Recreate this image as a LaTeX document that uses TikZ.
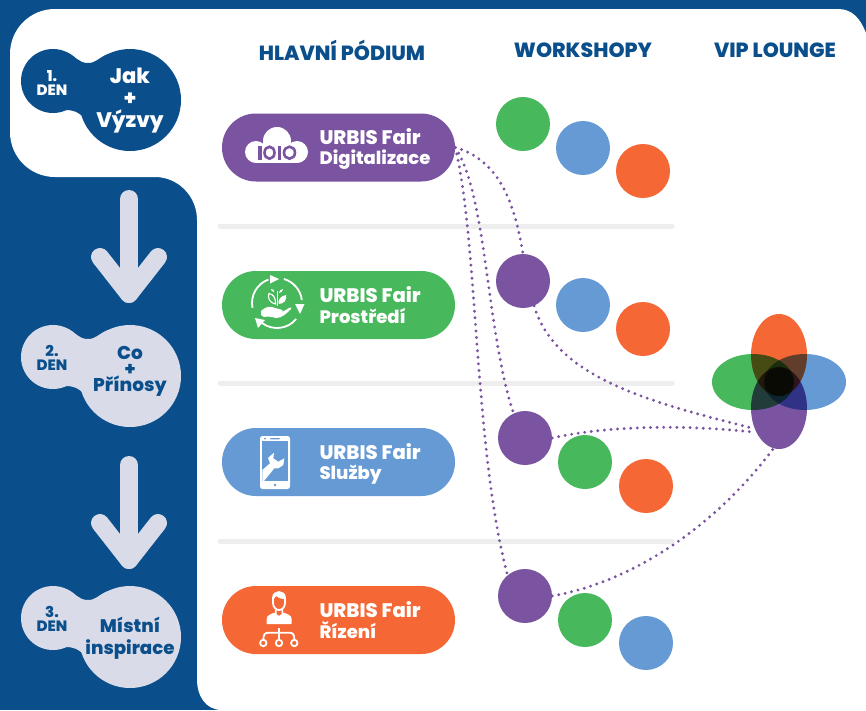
\documentclass[tikz,border=0pt]{standalone}
\usepackage{fontspec}
\setmainfont{Poppins}[BoldFont={Poppins ExtraBold}]
\usetikzlibrary{calc}
\definecolor{navy}{HTML}{0A4F8B}
\definecolor{pale}{HTML}{D9DBE9}
\definecolor{vio}{HTML}{7A54A1}
\definecolor{grn}{HTML}{48B85D}
\definecolor{blu}{HTML}{659AD4}
\definecolor{org}{HTML}{F56835}
\definecolor{sep}{HTML}{EEEEEE}
\definecolor{core}{HTML}{0A0A05}
\newcommand{\firstline}[1]{{\fontsize{19.6}{20.5}\selectfont #1}}
\tikzset{
  x=1pt,y=-1pt,
  pill/.style={rounded corners=33.9pt,minimum width=233pt,minimum height=68pt,inner sep=0pt},
  work/.style={circle,minimum size=54pt,inner sep=0pt},
  hd/.style={text=navy,font=\fontsize{20.5}{20.5}\selectfont\bfseries,anchor=center},
  pilltxt/.style={text=white,font=\fontsize{18}{20.5}\selectfont\bfseries,align=left,anchor=west},
  dayno/.style={font=\fontsize{15}{15.5}\selectfont\bfseries,align=center},
  dots/.style={draw=vio,line width=3.2pt,line cap=round,dash pattern=on 0pt off 6.6pt},
  bigarrow/.style={draw=pale,line width=18pt,line cap=round,line join=round},
  ic/.style={draw=white,line width=1.8pt},
}
\newcommand{\blob}[2]{%
  \begin{scope}[yshift=-#1pt]
  \fill[#2] (53,81) circle[radius=32] (130,100) circle[radius=51];
  \fill[#2] (66,52) .. controls (76,56) and (78,63) .. (88,63) .. controls (96,63) and (98,58) .. (108,54)
     -- (90,125) .. controls (84,118) and (80,111) .. (68,110) -- (55,110) -- cycle;
  \end{scope}}
\begin{document}
\begin{tikzpicture}
\useasboundingbox (0,0) rectangle (866,710);
\fill[navy] (0,0) rectangle (866,710);
\fill[white] (866,33) .. controls (860,18) and (852,9) .. (838,9) -- (55,9) .. controls (30,9) and (10,29) .. (10,54) -- (10,132) .. controls (10,157) and (30,177) .. (55,177)
  -- (155,177) .. controls (178,177) and (197,196) .. (197,220) -- (197,680) .. controls (197,695) and (205,710) .. (222,710) -- (866,710) -- cycle;
% separators
\foreach \yy in {226,383,541} \draw[sep,line width=5pt,line cap=round] (220,\yy) -- (672,\yy);
% blobs
\blob{0}{navy}
\blob{276}{pale}
\blob{537}{pale}
\node[dayno,text=white] (d1) at (52,83) {1.\\[-1pt]DEN};
\node[dayno,text=navy] (d2) at (52,358) {2.\\[-1pt]DEN};
\node[dayno,text=navy] (d3) at (52,619) {3.\\[-1pt]DEN};
\node[text=white,align=center,font=\fontsize{21}{22}\selectfont\bfseries] (t1) at (130,101) {Jak\\+\\Výzvy};
\node[text=navy,align=center,inner sep=0pt,font=\fontsize{18.5}{16}\selectfont\bfseries] (t2) at (130,371.5) {Co\\+\\Přínosy};
\node[text=navy,align=center,font=\fontsize{18.2}{22}\selectfont\bfseries] (t3) at (130,638) {Místní\\inspirace};
% arrows
\foreach \dy in {-266,0} {
  \draw[bigarrow] (129,465+\dy) -- (129,560+\dy);
  \draw[bigarrow] (100,523+\dy) -- (129,560+\dy) -- (158,523+\dy);
}
% headings
\node[hd] (h1) at (342,50) {HLAVNÍ PÓDIUM};
\node[hd] (h2) at (583,50) {WORKSHOPY};
\node[hd] (h3) at (775,50) {VIP LOUNGE};
% pills
\node[pill,fill=vio] (p1) at (338.5,147.5) {};
\node[pill,fill=grn] (p2) at (338.5,305) {};
\node[pill,fill=blu] (p3) at (338.5,462) {};
\node[pill,fill=org] (p4) at (338.5,620) {};
\node[pilltxt] (pt1) at (316,149) {\firstline{URBIS Fair}\\Digitalizace};
\node[pilltxt] (pt2) at (316,305) {\firstline{URBIS Fair}\\Prostředí};
\node[pilltxt] (pt3) at (316,464) {\firstline{URBIS Fair}\\Služby};
\node[pilltxt] (pt4) at (316,620) {\firstline{URBIS Fair}\\Řízení};
% cloud icon
\fill[white] (256,152) circle[radius=11] (277,141) circle[radius=14] (297,152) circle[radius=11];
\fill[white] (256,148) rectangle (297,163);
\fill[vio] (258,145.5) rectangle (261.5,160);
\draw[vio,line width=2.6pt] (269.5,152.7) ellipse[x radius=5,y radius=6];
\fill[vio] (277.5,145.5) rectangle (281,160);
\draw[vio,line width=2.6pt] (289.5,152.7) ellipse[x radius=5.5,y radius=6];
% recycle icon
\begin{scope}[shift={(277,303)}]
\draw[ic] (169:25) arc[start angle=169,end angle=250,radius=25];
\fill[white] (-7,-28) -- (2,-24) -- (-7,-19.5) -- cycle;
\draw[ic] (-74:25) arc[start angle=-74,end angle=-7,radius=25];
\fill[white] (18,1) -- (27.5,1) -- (23,11) -- cycle;
\draw[ic] (40:25) arc[start angle=40,end angle=126,radius=25];
\fill[white] (-22,15) -- (-12,17) -- (-19,25) -- cycle;
\end{scope}
% hand and plant
\fill[white] (261,315) -- (261,311) .. controls (266,306) and (271,306) .. (275,308) -- (281,309.5) .. controls (283,310) and (283,311) .. (282,312) -- (276,312)
  -- (283,311.5) -- (290,307.5) .. controls (291,307) and (292,308) .. (291,309) .. controls (286,314) and (282,318) .. (276,318) .. controls (272,317) and (268,316) .. (264,317) -- cycle;
\draw[white,line width=1pt] (277,291) -- (277,306);
\draw[white,line width=1.1pt] (275.5,304) .. controls (270,303) and (267,298) .. (269,293.5) .. controls (273,294) and (276,298) .. (275.5,304) -- cycle;
\fill[white] (278.5,304) .. controls (278,299) and (281,296) .. (286,295) .. controls (287,300) and (284,304) .. (278.5,304) -- cycle;
\fill[white] (274,292) .. controls (272,292) and (271,290) .. (271,289) .. controls (273,289) and (275,290) .. (274,292) -- cycle;
\fill[white] (279,293) .. controls (279,291) and (281,289) .. (283,289) .. controls (283,291) and (281,293) .. (279,293) -- cycle;
% phone icon
\fill[white,rounded corners=2.5pt] (260,436) rectangle (290,489);
\fill[blu] (262.3,441) rectangle (287.7,481);
\fill[blu,rounded corners=0.8pt] (270,438) rectangle (280,439.4);
\fill[blu] (265,438.7) circle[radius=1];
\fill[blu] (275,485) circle[radius=1.3];
\fill[white] (262.3,470) -- (270,463.3) -- (268,458) -- (274,452.7) -- (273.3,458.3) -- (278.3,461.7) -- (284.3,458.3) -- (283.3,465) -- (278.3,468.3) -- (274.3,468.3) -- (264,481) -- (262.3,481) -- cycle;
% person icon
\draw[ic] (273,603) -- (273,598) .. controls (273,590) and (285,590) .. (285,598) -- (285,603) .. controls (285,607) and (282,610) .. (279,610) .. controls (276,610) and (273,607) .. (273,603) -- cycle;
\fill[white] (272.5,599) .. controls (272,590) and (286,590) .. (285.5,599) .. controls (281,599) and (278,598) .. (276,596) .. controls (275,598) and (274,599) .. (272.5,599) -- cycle;
\fill[white] (266.7,624) -- (266.7,619) .. controls (266.7,615) and (271,614) .. (275,612.5) -- (275,608) -- (276.5,609) -- (276.5,614) -- (279,616) -- (281.5,614) -- (281.5,609) -- (283,608) -- (283,612.5) .. controls (287,614) and (291.7,615) .. (291.7,619) -- (291.7,624) -- cycle;
\draw[ic] (279,628) -- (279,640) (263.3,640) .. controls (263.3,634) and (265,632.7) .. (269,632.7) -- (289,632.7) .. controls (293,632.7) and (294.3,634) .. (294.3,640);
\foreach \xx in {263.3,279,294.3} \draw[ic] (\xx,643) circle[radius=3.2];
% workshop circles
\node[work,fill=grn] (a1) at (523,124) {};
\node[work,fill=blu] (a2) at (583,148) {};
\node[work,fill=org] (a3) at (643,171) {};
\node[work,fill=vio] (b1) at (523,281) {};
\node[work,fill=blu] (b2) at (583,305) {};
\node[work,fill=org] (b3) at (643,329) {};
\node[work,fill=vio] (c1) at (525,438) {};
\node[work,fill=grn] (c2) at (585,462) {};
\node[work,fill=org] (c3) at (646,486) {};
\node[work,fill=vio] (e1) at (525,596) {};
\node[work,fill=grn] (e2) at (585,620) {};
\node[work,fill=blu] (e3) at (646,643) {};
% VIP flower
\begin{scope}[blend group=multiply]
\fill[org] (779,355) ellipse[x radius=28,y radius=41];
\fill[vio] (779,408) ellipse[x radius=28,y radius=41];
\fill[grn] (753,382) ellipse[x radius=41,y radius=28];
\fill[blu] (805,382) ellipse[x radius=41,y radius=28];
\end{scope}
\fill[core] (779,382) circle[radius=14];
\coordinate (v1) at (752,428);
\coordinate (v2) at (752,432);
\coordinate (v3) at (773,449);
% connectors
\draw[dots] (p1.east) .. controls (500,160) and (515,205) .. (b1.north);
\draw[dots] (p1.east) .. controls (487,195) and (486,330) .. (c1.115);
\draw[dots] (p1.east) .. controls (478,240) and (474,450) .. (e1.130);
\draw[dots] (b1.-66) .. controls (555,375) and (640,400) .. (v1);
\draw[dots] (c1.east) .. controls (610,425) and (690,425) .. (v2);
\draw[dots] (e1.east) .. controls (640,580) and (720,520) .. (v3);
\end{tikzpicture}
\end{document}
